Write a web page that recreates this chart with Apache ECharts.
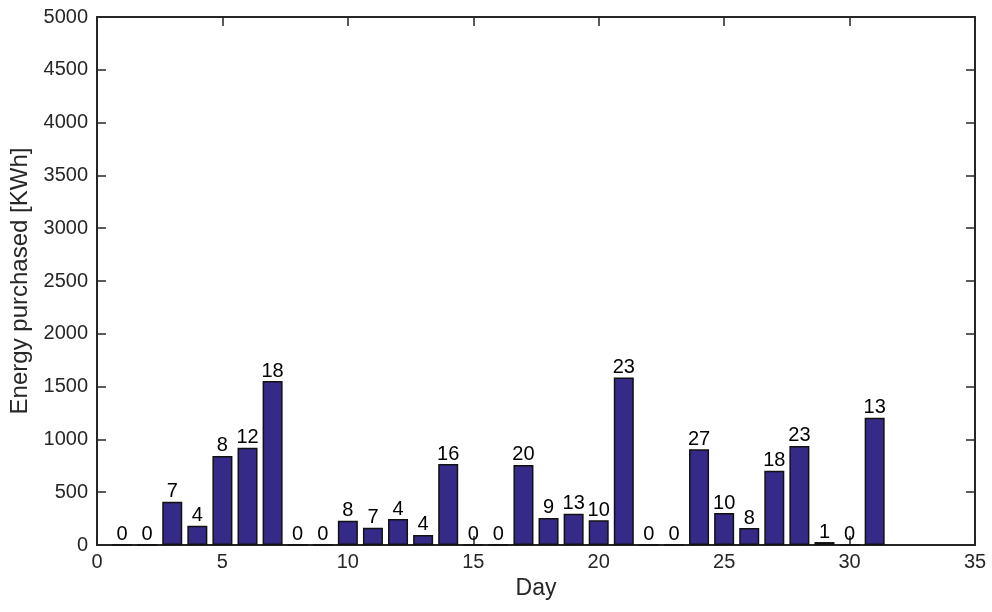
<!DOCTYPE html>
<html>
<head>
<meta charset="utf-8">
<script src="https://cdn.jsdelivr.net/npm/echarts@6/dist/echarts.min.js"></script>
<style>html,body{margin:0;padding:0;background:#fff}#c{width:992px;height:612px}</style>
</head>
<body>
<div id="c"></div>
<script>
const days = [1,2,3,4,5,6,7,8,9,10,11,12,13,14,15,16,17,18,19,20,21,22,23,24,25,26,27,28,29,30,31];
const energy = [0,0,410,183,843,921,1553,0,0,230,164,246,95,767,0,0,758,256,297,234,1585,0,0,906,303,161,704,938,28,0,1206];
const counts = [0,0,7,4,8,12,18,0,0,8,7,4,4,16,0,0,20,9,13,10,23,0,0,27,10,8,18,23,1,0,13];
const xTicks = [0,5,10,15,20,25,30,35];
const yTicks = [0,500,1000,1500,2000,2500,3000,3500,4000,4500,5000];

const font = "'Liberation Sans', Arial, sans-serif";
const axisCol = '#262626';
const chart = echarts.init(document.getElementById('c'));
const data = days.map((d, i) => ({value: [d, energy[i]], count: counts[i]}));
const baseX = {type: 'value', min: xTicks[0], max: xTicks[xTicks.length-1], interval: 5,
  splitLine: {show: false},
  axisLine: {show: true, onZero: false, lineStyle: {color: axisCol, width: 2}},
  axisTick: {show: true, inside: true, length: 9, lineStyle: {color: axisCol, width: 1.5}}};
const baseY = {type: 'value', min: yTicks[0], max: yTicks[yTicks.length-1], interval: 500,
  splitLine: {show: false},
  axisLine: {show: true, onZero: false, lineStyle: {color: axisCol, width: 2}},
  axisTick: {show: true, inside: true, length: 9, lineStyle: {color: axisCol, width: 1.5}}};
chart.setOption({
  animation: false,
  backgroundColor: '#fff',
  grid: {left: 97, right: 17, top: 17, bottom: 67},
  xAxis: [
    Object.assign({}, baseX, {position: 'bottom', name: 'Day', nameLocation: 'middle', nameGap: 32,
      nameTextStyle: {fontFamily: font, fontSize: 23, color: axisCol},
      axisLabel: {fontFamily: font, fontSize: 20, color: axisCol, margin: 7, formatter: v => String(v)}}),
    Object.assign({}, baseX, {position: 'top', axisLabel: {show: false}})
  ],
  yAxis: [
    Object.assign({}, baseY, {position: 'left', name: 'Energy purchased [KWh]', nameLocation: 'middle', nameGap: 62,
      nameTextStyle: {fontFamily: font, fontSize: 24, color: axisCol},
      axisLabel: {fontFamily: font, fontSize: 20, color: axisCol, margin: 9, formatter: v => String(v)}}),
    Object.assign({}, baseY, {position: 'right', axisLabel: {show: false}})
  ],
  series: [{
    type: 'bar', xAxisIndex: 0, yAxisIndex: 0, data: data, barWidth: 20,
    itemStyle: {color: '#352A87', borderColor: '#111', borderWidth: 1.5},
    label: {show: true, position: 'top', distance: 0, fontFamily: font, fontSize: 20, color: '#000',
      formatter: p => String(p.data.count)}
  }]
});
</script>
</body>
</html>
